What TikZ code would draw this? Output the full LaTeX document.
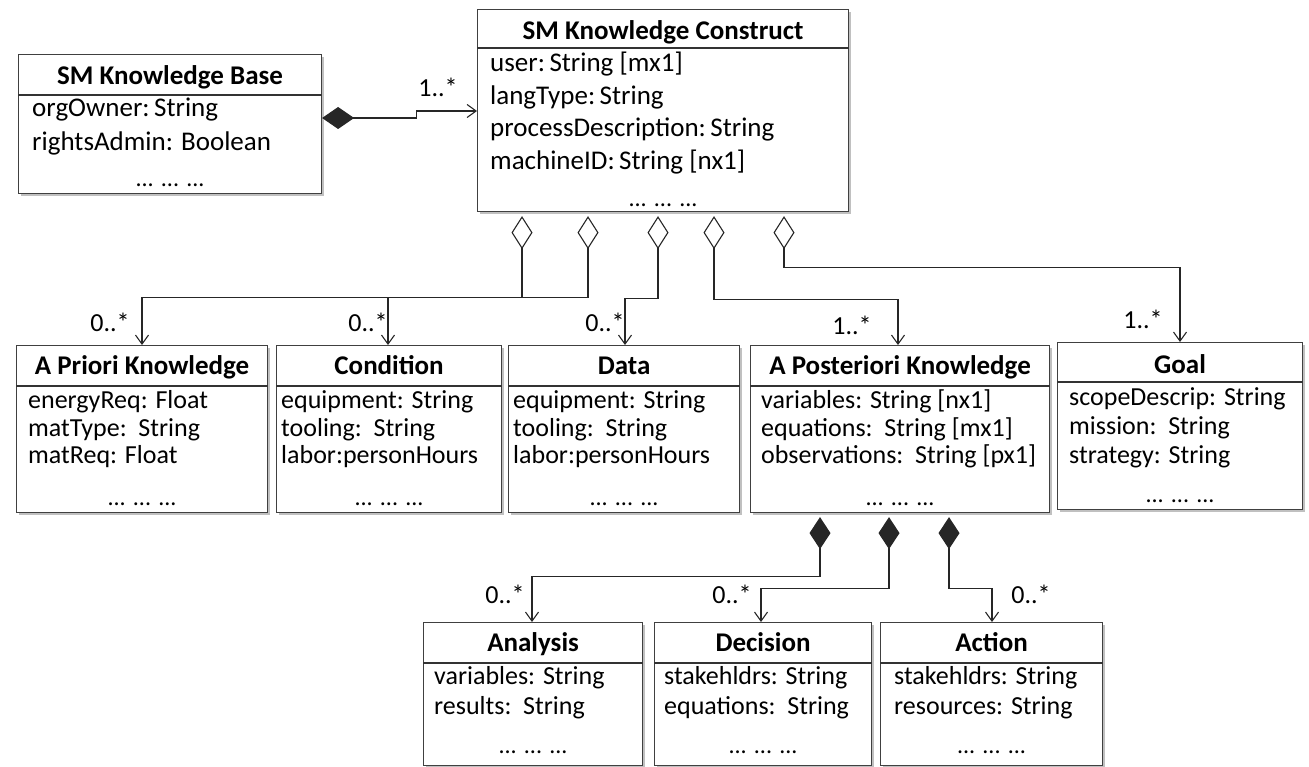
\documentclass[tikz,border=0pt]{standalone}
\usepackage{fontspec}
\setmainfont{Carlito}
\usetikzlibrary{arrows.meta,calc,shadows}
\begin{document}
\begin{tikzpicture}[x=1pt,y=-1pt,
  cls/.style={draw=black!75, line width=1.1pt, fill=white, anchor=north west, inner sep=0pt,
    drop shadow={shadow xshift=2.5pt, shadow yshift=-2.5pt, fill=black!45, opacity=0.55}},
  divl/.style={line width=1.1pt, draw=black!80},
  hdr/.style={font=\fontsize{27}{30}\selectfont\bfseries, inner sep=0pt, text height=1.35em, text depth=0em, anchor=center},
  attrA/.style={font=\fontsize{27}{30}\selectfont, inner sep=0pt, text height=1.35em, text depth=0em, anchor=west},
  attrB/.style={font=\fontsize{26}{30}\selectfont, inner sep=0pt, text height=1.35em, text depth=0em, anchor=west},
  dots/.style={font=\fontsize{24}{28}\selectfont, inner sep=0pt, anchor=base},
  mult/.style={font=\fontsize{26}{30}\selectfont, inner sep=0pt, text height=1.35em, text depth=0em, anchor=center},
  conn/.style={line width=1.1pt, draw=black!85},
  aggr/.style={conn, shorten <=4pt, {Diamond[open,length=33pt,width=21pt,line width=1.1pt]}-{Straight Barb[length=9pt,width=13pt,line width=1.1pt]}},
  comp/.style={conn, shorten <=4pt, {Diamond[length=32pt,width=21pt]}-{Straight Barb[length=9pt,width=13pt,line width=1.1pt]}},
]
\useasboundingbox (0,0) rectangle (1309,767);

% ---------- SM Knowledge Base ----------
\node[cls, minimum width=303pt, minimum height=139pt] (kb) at (18,54) {};
\draw[divl] ($(kb.north west)+(0,41)$) -- ($(kb.north east)+(0,41)$);
\node[hdr] (kbh) at ($(kb.north)+(0,24)$) {SM Knowledge Base};
\node[attrA] (kb1) at ($(kb.north west)+(14,56)$) {orgOwner:\,String};
\node[attrA] (kb2) at ($(kb.north west)+(14,90)$) {rightsAdmin: Boolean};
\node[dots] (kb3) at ($(kb.north)+(0,133)$) {... ... ...};

% ---------- SM Knowledge Construct ----------
\node[cls, minimum width=371pt, minimum height=202pt] (kc) at (477,9) {};
\draw[divl] ($(kc.north west)+(0,39)$) -- ($(kc.north east)+(0,39)$);
\node[hdr] (kch) at ($(kc.north)+(0,24)$) {SM Knowledge Construct};
\node[attrA] (kc1) at ($(kc.north west)+(13,56)$) {user:\,String [mx1]};
\node[attrA] (kc2) at ($(kc.north west)+(13,89)$) {langType:\,String};
\node[attrA] (kc3) at ($(kc.north west)+(13,121)$) {processDescription:\,String};
\node[attrA] (kc4) at ($(kc.north west)+(13,154)$) {machineID:\,String [nx1]};
\node[dots] (kc5) at ($(kc.north)+(0,198)$) {... ... ...};

% ---------- Row 2 ----------
\node[cls, minimum width=251pt, minimum height=167pt] (apk) at (16,345) {};
\draw[divl] ($(apk.north west)+(0,41)$) -- ($(apk.north east)+(0,41)$);
\node[hdr] (apkh) at ($(apk.north)+(0,23)$) {A Priori Knowledge};
\node[attrB] (apk1) at ($(apk.north west)+(12,57)$) {energyReq: Float};
\node[attrB] (apk2) at ($(apk.north west)+(12,85)$) {matType:~~String};
\node[attrB] (apk3) at ($(apk.north west)+(12,112)$) {matReq: Float};
\node[dots] (apk4) at ($(apk.north)+(0,160)$) {... ... ...};

\node[cls, minimum width=225pt, minimum height=167pt] (cond) at (276,345) {};
\draw[divl] ($(cond.north west)+(0,41)$) -- ($(cond.north east)+(0,41)$);
\node[hdr] (condh) at ($(cond.north)+(0,23)$) {Condition};
\node[attrB] (cond1) at ($(cond.north west)+(5,57)$) {equipment: String};
\node[attrB] (cond2) at ($(cond.north west)+(5,85)$) {tooling:~~String};
\node[attrB] (cond3) at ($(cond.north west)+(5,112)$) {labor:personHours};
\node[dots] (cond4) at ($(cond.north)+(0,160)$) {... ... ...};

\node[cls, minimum width=231pt, minimum height=167pt] (data) at (508,345) {};
\draw[divl] ($(data.north west)+(0,41)$) -- ($(data.north east)+(0,41)$);
\node[hdr] (datah) at ($(data.north)+(0,23)$) {Data};
\node[attrB] (data1) at ($(data.north west)+(5,57)$) {equipment: String};
\node[attrB] (data2) at ($(data.north west)+(5,85)$) {tooling:~~String};
\node[attrB] (data3) at ($(data.north west)+(5,112)$) {labor:personHours};
\node[dots] (data4) at ($(data.north)+(0,160)$) {... ... ...};

\node[cls, minimum width=299pt, minimum height=167pt] (apost) at (750,345) {};
\draw[divl] ($(apost.north west)+(0,41)$) -- ($(apost.north east)+(0,41)$);
\node[hdr] (aposth) at ($(apost.north)+(0,23)$) {A Posteriori Knowledge};
\node[attrB] (apost1) at ($(apost.north west)+(11,57)$) {variables: String [nx1]};
\node[attrB] (apost2) at ($(apost.north west)+(11,85)$) {equations:~~String [mx1]};
\node[attrB] (apost3) at ($(apost.north west)+(11,112)$) {observations:~~String [px1]};
\node[dots] (apost4) at ($(apost.north)+(0,160)$) {... ... ...};

\node[cls, minimum width=245pt, minimum height=167pt] (goal) at (1057,342) {};
\draw[divl] ($(goal.north west)+(0,40)$) -- ($(goal.north east)+(0,40)$);
\node[hdr] (goalh) at ($(goal.north)+(0,25)$) {Goal};
\node[attrB] (goal1) at ($(goal.north west)+(12,57)$) {scopeDescrip: String};
\node[attrB] (goal2) at ($(goal.north west)+(12,86)$) {mission:~~String};
\node[attrB] (goal3) at ($(goal.north west)+(12,115)$) {strategy: String};
\node[dots] (goal4) at ($(goal.north)+(0,160)$) {... ... ...};

% ---------- Row 3 ----------
\node[cls, minimum width=219pt, minimum height=143pt] (ana) at (423,622) {};
\draw[divl] ($(ana.north west)+(0,41)$) -- ($(ana.north east)+(0,41)$);
\node[hdr] (anah) at ($(ana.north)+(0,23)$) {Analysis};
\node[attrB] (ana1) at ($(ana.north west)+(11,56)$) {variables: String};
\node[attrB] (ana2) at ($(ana.north west)+(11,86)$) {results:~~String};
\node[dots] (ana3) at ($(ana.north)+(0,131)$) {... ... ...};

\node[cls, minimum width=217pt, minimum height=143pt] (dec) at (654,622) {};
\draw[divl] ($(dec.north west)+(0,41)$) -- ($(dec.north east)+(0,41)$);
\node[hdr] (dech) at ($(dec.north)+(0,23)$) {Decision};
\node[attrB] (dec1) at ($(dec.north west)+(10,56)$) {stakehldrs: String};
\node[attrB] (dec2) at ($(dec.north west)+(10,86)$) {equations:~~String};
\node[dots] (dec3) at ($(dec.north)+(0,131)$) {... ... ...};

\node[cls, minimum width=222pt, minimum height=143pt] (act) at (880,622) {};
\draw[divl] ($(act.north west)+(0,41)$) -- ($(act.north east)+(0,41)$);
\node[hdr] (acth) at ($(act.north)+(0,23)$) {Action};
\node[attrB] (act1) at ($(act.north west)+(14,56)$) {stakehldrs: String};
\node[attrB] (act2) at ($(act.north west)+(14,86)$) {resources: String};
\node[dots] (act3) at ($(act.north)+(0,131)$) {... ... ...};

% ---------- Connectors ----------
\draw[conn, {Diamond[length=32pt,width=22pt]}-{Straight Barb[length=9pt,width=13pt,line width=1.1pt]}]
  ($(kb.north east)+(0,64)$) -- ++(94,0) -- ++(0,-7) -- ($(kc.north west)+(0,102)$);
\node[mult] (m0) at (438,90) {1..*};

\draw[aggr] ($(kc.south west)+(45,0)$) -- ++(0,85) -| ($(apk.north west)+(126,0)$);
\draw[aggr] ($(kc.south west)+(111,0)$) -- ++(0,85) -| ($(cond.north west)+(112,0)$);
\draw[aggr] ($(kc.south west)+(181,0)$) -- ++(0,86) -| ($(data.north west)+(117,0)$);
\draw[aggr] ($(kc.south west)+(237,0)$) -- ++(0,87) -| ($(apost.north west)+(148,0)$);
\draw[aggr] ($(kc.south west)+(307,0)$) -- ++(0,55) -| ($(goal.north west)+(123,0)$);

\node[mult] (m1) at (110,325) {0..*};
\node[mult] (m2) at (368,325) {0..*};
\node[mult] (m3) at (605,325) {0..*};
\node[mult] (m4) at (852,328) {1..*};
\node[mult] (m5) at (1143,322) {1..*};

\draw[comp] ($(apost.south west)+(70,0)$) -- ++(0,63) -| ($(ana.north west)+(109,0)$);
\draw[comp] ($(apost.south west)+(139,0)$) -- ++(0,75) -| ($(dec.north west)+(107,0)$);
\draw[comp] ($(apost.south west)+(199,0)$) -- ++(0,75) -| ($(act.north west)+(112,0)$);

\node[mult] (m6) at (505,597) {0..*};
\node[mult] (m7) at (732,597) {0..*};
\node[mult] (m8) at (1031,597) {0..*};
\end{tikzpicture}
\end{document}
